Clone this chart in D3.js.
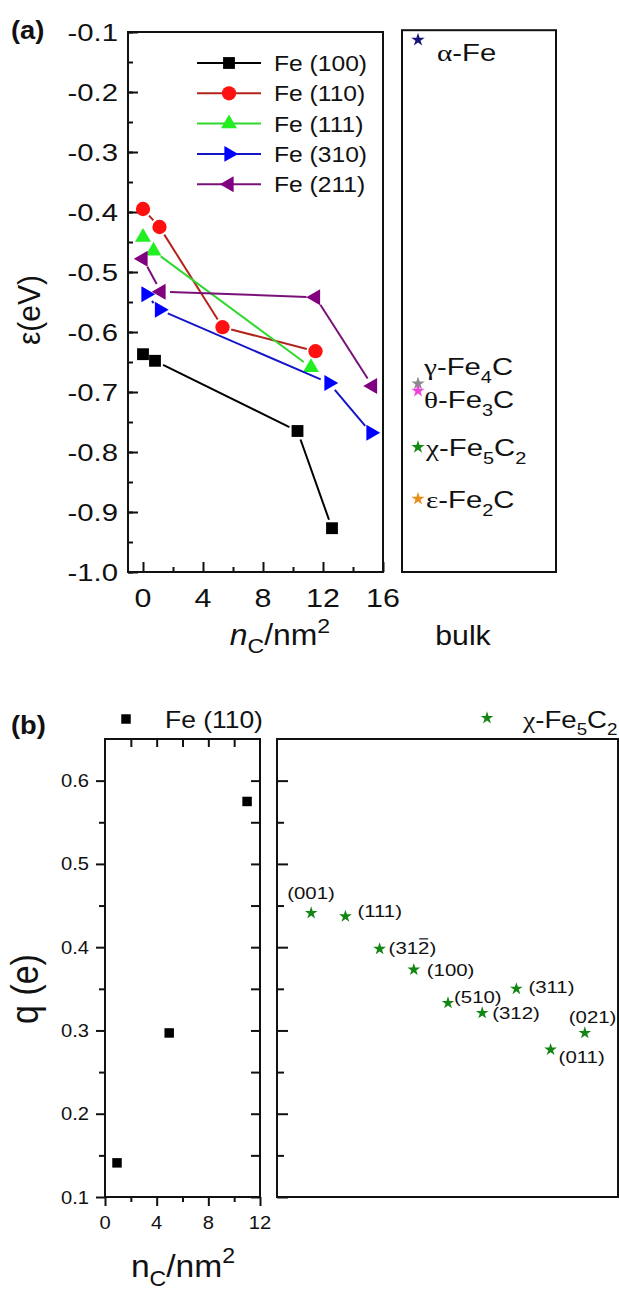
<!DOCTYPE html>
<html>
<head>
<meta charset="utf-8">
<script src="https://cdn.jsdelivr.net/npm/d3@7"></script>
<style>
  body { margin: 0; background: #fff; }
  svg { display: block; }
  text { font-family: "Liberation Sans", Arial, sans-serif; fill: #111; }
</style>
</head>
<body>
<svg id="chart" width="619" height="1291"></svg>
<script>
// ---------- panel (a): carbon adsorption energy vs. surface carbon coverage ----------
const facetNames = ["Fe (100)", "Fe (110)", "Fe (111)", "Fe (310)", "Fe (211)"];
const cov100 = [0, 0.8, 10.3, 12.6];
const eps100 = [-0.637, -0.648, -0.765, -0.927];
const cov110 = [0, 1.1, 5.3, 11.5];
const eps110 = [-0.395, -0.425, -0.592, -0.632];
const cov111 = [0, 0.7, 11.2];
const eps111 = [-0.442, -0.465, -0.659];
const cov310 = [0.2, 1.1, 12.4, 15.2];
const eps310 = [-0.537, -0.563, -0.685, -0.768];
const cov211 = [0, 1.2, 11.5, 15.3];
const eps211 = [-0.478, -0.533, -0.542, -0.690];

const bulkPhases = ["α-Fe", "γ-Fe4C", "θ-Fe3C", "χ-Fe5C2", "ε-Fe2C"];
const bulkEps = [-0.113, -0.686, -0.698, -0.792, -0.878];

const epsTicks = [-0.1, -0.2, -0.3, -0.4, -0.5, -0.6, -0.7, -0.8, -0.9, -1.0];
const epsTickLabels = ["-0.1", "-0.2", "-0.3", "-0.4", "-0.5", "-0.6", "-0.7", "-0.8", "-0.9", "-1.0"];
const covTicks = [0, 4, 8, 12, 16];

// ---------- panel (b): charge q vs. coverage, and χ-Fe5C2 facets ----------
const q110Cov = [0.93, 4.97, 11.0];
const q110 = [0.141, 0.297, 0.575];
const chiFacets = ["(001)", "(111)", "(31-2)", "(100)", "(510)", "(312)", "(311)", "(011)", "(021)"];
const chiQ = [0.441, 0.437, 0.398, 0.373, 0.333, 0.321, 0.350, 0.277, 0.297];
const qTicks = [0.1, 0.2, 0.3, 0.4, 0.5, 0.6];
const covTicksB = [0, 4, 8, 12];

const svg = d3.select("#chart");
svg.append("rect").attr("width", 619).attr("height", 1291).attr("fill", "#fff");

// text helper: horizontally widened glyphs anchored at (x, y)
function label(g, x, y, str, opt = {}) {
  const t = g.append("text")
    .attr("transform", `translate(${x},${y}) scale(${opt.sx || 1},1)` + (opt.rot ? ` rotate(${opt.rot})` : ""))
    .attr("text-anchor", opt.anchor || "start")
    .style("font-size", (opt.size || 20) + "px");
  if (opt.weight) t.style("font-weight", opt.weight);
  if (str !== null) t.text(str);
  return t;
}

// chemical formula: Greek letters in serif, digits as subscripts
function formula(t, str, size) {
  const sub = size * 0.32;
  let lowered = false;
  for (const ch of str) {
    const isDigit = /[0-9]/.test(ch);
    const isGreek = /[\u0370-\u03ff]/.test(ch);
    const s = t.append("tspan").text(ch);
    if (isGreek) s.style("font-family", "'Liberation Serif', 'Times New Roman', serif");
    if (isDigit && !lowered) { s.attr("dy", sub).style("font-size", size * 0.68 + "px"); lowered = true; }
    else if (isDigit) { s.style("font-size", size * 0.68 + "px"); }
    else if (!isDigit && lowered) { s.attr("dy", -sub); lowered = false; }
  }
  return t;
}

// ================= panel (a) =================
const ga = svg.append("g");
const xA = d3.scaleLinear().domain([-1, 16]).range([128, 383]);
const yA = d3.scaleLinear().domain([-1.0, -0.1]).range([572, 32]);

// inward ticks on left and bottom
ga.append("g").attr("transform", `translate(${xA.range()[0]},0)`)
  .call(d3.axisLeft(yA).tickValues(d3.range(-1.0, -0.09, 0.05)).tickSize(-5).tickFormat(""))
  .call(g => g.select(".domain").remove());
ga.append("g").attr("transform", `translate(${xA.range()[0]},0)`)
  .call(d3.axisLeft(yA).tickValues(epsTicks).tickSize(-10).tickFormat(""))
  .call(g => g.select(".domain").remove());
ga.append("g").attr("transform", `translate(0,${yA.range()[0]})`)
  .call(d3.axisBottom(xA).tickValues([2, 6, 10, 14]).tickSize(-5).tickFormat(""))
  .call(g => g.select(".domain").remove());
ga.append("g").attr("transform", `translate(0,${yA.range()[0]})`)
  .call(d3.axisBottom(xA).tickValues(covTicks).tickSize(-10).tickFormat(""))
  .call(g => g.select(".domain").remove());
ga.selectAll(".tick line").attr("stroke", "#111").attr("stroke-width", 2);

ga.append("rect")
  .attr("x", xA.range()[0]).attr("y", yA.range()[1])
  .attr("width", xA.range()[1] - xA.range()[0]).attr("height", yA.range()[0] - yA.range()[1])
  .attr("fill", "none").attr("stroke", "#111").attr("stroke-width", 2);

epsTicks.forEach((v, i) => label(ga, 118, yA(v) + 8.5, epsTickLabels[i], { anchor: "end", size: 24, sx: 1.22 }));
covTicks.forEach(v => label(ga, xA(v), 607, String(v), { anchor: "middle", size: 26, sx: 1.17 }));

const axLab = label(ga, 280, 645, null, { anchor: "middle", size: 29, sx: 1.1 });
axLab.append("tspan").text("n").style("font-style", "italic");
axLab.append("tspan").text("C").attr("dy", 8).style("font-size", "21px");
axLab.append("tspan").text("/nm").attr("dy", -8);
axLab.append("tspan").text("2").attr("dy", -12).style("font-size", "21px");

label(ga, 40, 310, "ε(eV)", { anchor: "middle", size: 30, sx: 1.05, rot: -90 });
label(ga, 11, 39, "(a)", { size: 26, weight: "bold", sx: 1.05 });

// series
const sym = (type, size, rot) => ({ path: d3.symbol().type(type).size(size)(), rot });
const seriesA = [
  { cov: cov100, eps: eps100, line: "#000", fill: "#000", m: sym(d3.symbolSquare, 140, 0) },
  { cov: cov110, eps: eps110, line: "#b3231b", fill: "#ff1010", m: sym(d3.symbolCircle, 160, 0) },
  { cov: cov111, eps: eps111, line: "#2fd82f", fill: "#22ee22", m: sym(d3.symbolTriangle, 110, 0) },
  { cov: cov310, eps: eps310, line: "#1515c8", fill: "#0000ff", m: sym(d3.symbolTriangle, 110, 90) },
  { cov: cov211, eps: eps211, line: "#7a107a", fill: "#800080", m: sym(d3.symbolTriangle, 110, -90) }
];

const gap = 9;
seriesA.forEach(s => {
  const pts = s.cov.map((c, i) => [xA(c), yA(s.eps[i])]);
  for (let i = 0; i < pts.length - 1; i++) {
    const [x1, y1] = pts[i], [x2, y2] = pts[i + 1];
    const len = Math.hypot(x2 - x1, y2 - y1);
    if (len <= 2 * gap) continue;
    const ux = (x2 - x1) / len, uy = (y2 - y1) / len;
    ga.append("line")
      .attr("x1", x1 + ux * gap).attr("y1", y1 + uy * gap)
      .attr("x2", x2 - ux * gap).attr("y2", y2 - uy * gap)
      .attr("stroke", s.line).attr("stroke-width", 2);
  }
  ga.selectAll(null).data(pts).join("path")
    .attr("d", s.m.path)
    .attr("transform", d => `translate(${d[0]},${d[1]}) rotate(${s.m.rot})`)
    .attr("fill", s.fill);
});

// legend
seriesA.forEach((s, i) => {
  const ly = 63 + i * 30.3;
  ga.append("line").attr("x1", 197).attr("x2", 261).attr("y1", ly).attr("y2", ly)
    .attr("stroke", s.line).attr("stroke-width", 2);
  ga.append("path").attr("d", s.m.path)
    .attr("transform", `translate(229,${ly}) rotate(${s.m.rot})`).attr("fill", s.fill);
  label(ga, 274, ly + 8, facetNames[i], { size: 22, sx: 1.12 });
});

// bulk phases panel (shares the energy axis)
const bulkColors = ["#14147a", "#8a8a8a", "#ee44dd", "#138a13", "#e8901e"];
const bulkLabelPos = [[437, 61], [424, 375], [424, 408], [426, 456], [426, 508]];
ga.append("rect").attr("x", 402).attr("y", yA(-0.097)).attr("width", 154).attr("height", yA(-1.0) - yA(-0.097))
  .attr("fill", "none").attr("stroke", "#111").attr("stroke-width", 2);
const starA = d3.symbol().type(d3.symbolStar).size(55)();
bulkPhases.forEach((p, i) => {
  ga.append("path").attr("d", starA).attr("fill", bulkColors[i])
    .attr("transform", `translate(418,${yA(bulkEps[i])})`);
  const t = label(ga, bulkLabelPos[i][0], bulkLabelPos[i][1], null, { size: 24, sx: 1.22 });
  formula(t, p, 24);
});
label(ga, 463, 645, "bulk", { anchor: "middle", size: 27, sx: 1.12 });

// ================= panel (b) =================
const gb = svg.append("g");
const xB = d3.scaleLinear().domain([0, 12]).range([105, 260]);
const yB = d3.scaleLinear().domain([0.1, 0.65]).range([1197, 739]);
const xC = d3.scalePoint().domain(chiFacets).range([277, 619]).padding(1);

const qMinor = d3.range(0.15, 0.64, 0.1);
function ticks(g, axis, tr) {
  g.append("g").attr("transform", tr).call(axis).call(s => s.select(".domain").remove());
}
// left sub-plot: outward on left/bottom, inward on top/right
ticks(gb, d3.axisLeft(yB).tickValues(qTicks).tickSize(9).tickFormat(""), `translate(${xB(0)},0)`);
ticks(gb, d3.axisLeft(yB).tickValues(qMinor).tickSize(6).tickFormat(""), `translate(${xB(0)},0)`);
ticks(gb, d3.axisBottom(xB).tickValues(covTicksB).tickSize(9).tickFormat(""), `translate(0,${yB(0.1)})`);
ticks(gb, d3.axisBottom(xB).tickValues([2, 6, 10]).tickSize(5).tickFormat(""), `translate(0,${yB(0.1)})`);
ticks(gb, d3.axisTop(xB).tickValues([2, 4, 6, 8, 10]).tickSize(-8).tickFormat(""), `translate(0,${yB(0.65)})`);
ticks(gb, d3.axisRight(yB).tickValues(qTicks.concat(qMinor)).tickSize(-9).tickFormat(""), `translate(${xB(12)},0)`);
// right sub-plot: inward on left
ticks(gb, d3.axisLeft(yB).tickValues(qTicks).tickSize(-11).tickFormat(""), `translate(277,0)`);
ticks(gb, d3.axisLeft(yB).tickValues(qMinor).tickSize(-7).tickFormat(""), `translate(277,0)`);
gb.selectAll(".tick line").attr("stroke", "#111").attr("stroke-width", 2);

gb.append("rect").attr("x", xB(0)).attr("y", yB(0.65)).attr("width", xB(12) - xB(0)).attr("height", yB(0.1) - yB(0.65))
  .attr("fill", "none").attr("stroke", "#111").attr("stroke-width", 2);
gb.append("rect").attr("x", 277).attr("y", yB(0.65)).attr("width", 341).attr("height", yB(0.1) - yB(0.65))
  .attr("fill", "none").attr("stroke", "#111").attr("stroke-width", 2);

qTicks.forEach(v => label(gb, 89, yB(v) + 6.5, v.toFixed(1), { anchor: "end", size: 18, sx: 1.12 }));
covTicksB.forEach(v => label(gb, xB(v), 1229, String(v), { anchor: "middle", size: 18, sx: 1.12 }));

const bx = label(gb, 183, 1277, null, { anchor: "middle", size: 32, sx: 1.05 });
bx.append("tspan").text("n");
bx.append("tspan").text("C").attr("dy", 9).style("font-size", "22px");
bx.append("tspan").text("/nm").attr("dy", -9);
bx.append("tspan").text("2").attr("dy", -14).style("font-size", "22px");

label(gb, 38, 989, "q (e)", { anchor: "middle", size: 34, sx: 1.15, rot: -90 });
label(gb, 11, 734, "(b)", { size: 26, weight: "bold", sx: 1.05 });

// Fe(110) charges
const sq = d3.symbol().type(d3.symbolSquare).size(90)();
gb.selectAll(null).data(q110).join("path").attr("d", sq).attr("fill", "#000")
  .attr("transform", (d, i) => `translate(${xB(q110Cov[i])},${yB(d)})`);
gb.append("path").attr("d", sq).attr("fill", "#000").attr("transform", "translate(126,719)");
label(gb, 165, 728, "Fe (110)", { size: 23, sx: 1.15 });

// χ-Fe5C2 facet charges
const starB = d3.symbol().type(d3.symbolStar).size(50)();
const chiGreen = "#128512";
gb.selectAll(null).data(chiQ).join("path").attr("d", starB).attr("fill", chiGreen)
  .attr("transform", (d, i) => `translate(${xC(chiFacets[i])},${yB(d)})`);
gb.append("path").attr("d", starB).attr("fill", chiGreen).attr("transform", "translate(487,718)");
formula(label(gb, 523, 728, null, { size: 23, sx: 1.2 }), "χ-Fe5C2", 23);

const chiLabelOff = [[-24, -14], [12, 1], [9, 5], [13, 6], [6, 0], [10, 6], [12, 4], [8, 13], [-16, -10]];
chiFacets.forEach((f, i) => {
  const px = xC(f) + chiLabelOff[i][0], py = yB(chiQ[i]) + chiLabelOff[i][1];
  const sx = 1.2;
  const barAt = f.indexOf("-");
  const txt = f.replace("-", "");
  const t = label(gb, px, py, txt, { size: 17, sx });
  if (barAt >= 0) {
    const node = t.node();
    const x0 = node.getStartPositionOfChar(barAt).x;
    const w = node.getSubStringLength(barAt, 1);
    gb.append("line")
      .attr("x1", px + (x0 + 1) * sx).attr("x2", px + (x0 + w - 1) * sx)
      .attr("y1", py - 15).attr("y2", py - 15)
      .attr("stroke", "#111").attr("stroke-width", 1.2);
  }
});
</script>
</body>
</html>
